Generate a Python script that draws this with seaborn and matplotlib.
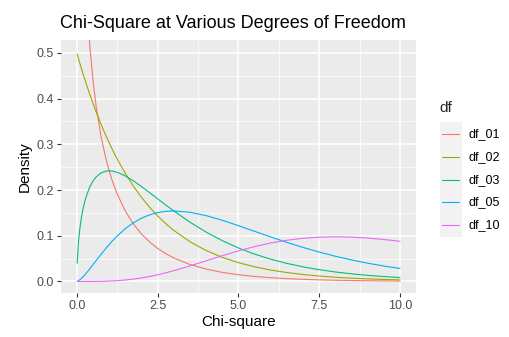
import matplotlib
matplotlib.use("Agg")
import matplotlib.pyplot as plt
from matplotlib.patches import Rectangle
from matplotlib.ticker import MultipleLocator
import seaborn as sns
import pandas as pd

x = [0.01, 0.05, 0.1, 0.15, 0.2, 0.25, 0.3, 0.4, 0.5, 0.6, 0.75, 0.9, 1.0, 1.1, 1.25, 1.5,
     1.75, 2.0, 2.25, 2.5, 2.75, 3.0, 3.5, 4.0, 4.5, 5.0, 5.5, 6.0, 6.5, 7.0, 7.5, 8.0,
     8.5, 9.0, 9.5, 10.0]

df_01 = [3.9695, 1.7401, 1.2000, 0.95564, 0.8072, 0.70413, 0.6269, 0.5164, 0.4394, 0.38155,
         0.3166, 0.26814, 0.2420, 0.21946, 0.1910, 0.1539, 0.1257, 0.1038, 0.086345, 0.07229,
         0.060826, 0.05139, 0.03706, 0.02700, 0.01982, 0.01465, 0.01087, 0.008109, 0.006067,
         0.004553, 0.003426, 0.002583, 0.001952, 0.001477, 0.001120, 0.000850]
df_02 = [0.4975, 0.4877, 0.4756, 0.46387, 0.4524, 0.44125, 0.4304, 0.4094, 0.3894, 0.37041,
         0.3436, 0.31881, 0.3033, 0.28848, 0.2676, 0.2362, 0.2084, 0.1839, 0.16233, 0.1433,
         0.12642, 0.1116, 0.08689, 0.06767, 0.05270, 0.04104, 0.03196, 0.02489, 0.01939,
         0.01510, 0.01176, 0.009158, 0.007132, 0.005554, 0.004326, 0.003369]
df_03 = [0.03970, 0.08700, 0.12000, 0.14335, 0.16143, 0.17603, 0.18807, 0.20658, 0.21970,
         0.22893, 0.23746, 0.24132, 0.24197, 0.24140, 0.23874, 0.23080, 0.22000, 0.20755,
         0.19428, 0.18072, 0.16727, 0.15418, 0.12970, 0.10798, 0.08920, 0.07322, 0.05981,
         0.04865, 0.03944, 0.03187, 0.02569, 0.02067, 0.01659, 0.01330, 0.01064, 0.00850]
df_05 = [0.000132, 0.00145, 0.00400, 0.007167, 0.01076, 0.014669, 0.01881, 0.02754, 0.03662,
         0.045786, 0.05936, 0.072397, 0.08066, 0.088515, 0.09948, 0.11540, 0.12833, 0.13837,
         0.145708, 0.15060, 0.153333, 0.15418, 0.15131, 0.14398, 0.13380, 0.12204, 0.10965,
         0.09730, 0.08545, 0.07437, 0.06424, 0.05511, 0.04701, 0.03989, 0.03369, 0.02833]
df_10 = [0.0, 0.0, 0.000000124, 0.00000061, 0.0000019, 0.00000449, 0.0000091, 0.0000273,
         0.0000634, 0.000125, 0.000283, 0.000545, 0.000790, 0.001100, 0.001702, 0.003114,
         0.005091, 0.007664, 0.010834, 0.014572, 0.018828, 0.023533, 0.033955, 0.045112,
         0.056278, 0.066801, 0.076170, 0.084016, 0.090123, 0.094404, 0.096892, 0.097685,
         0.096952, 0.094904, 0.091759, 0.087734]

series_names = ["df_01", "df_02", "df_03", "df_05", "df_10"]
series_vals = [df_01, df_02, df_03, df_05, df_10]
colors = ["#F8766D", "#A3A500", "#00BF7D", "#00B0F6", "#E76BF3"]

rows = []
for name, vals in zip(series_names, series_vals):
    for xi, yi in zip(x, vals):
        rows.append({"x": xi, "y": yi, "df": name})
data = pd.DataFrame(rows)

sns.set_theme(style="darkgrid")
plt.rcParams["font.family"] = ["Liberation Sans", "DejaVu Sans"]

fig = plt.figure(figsize=(5.1, 3.37), dpi=100)
fig.patch.set_facecolor("white")
ax = fig.add_axes([0.119, 0.131, 0.697, 0.750])
ax.set_facecolor("#EBEBEB")

sns.lineplot(data=data, x="x", y="y", hue="df", palette=dict(zip(series_names, colors)),
             linewidth=0.8, ax=ax, legend=False, estimator=None, sort=False)

ax.set_xlim(-0.5, 10.5)
ax.set_ylim(-0.025, 0.528)
ax.xaxis.set_minor_locator(MultipleLocator(1.25))
ax.yaxis.set_minor_locator(MultipleLocator(0.05))
ax.set_xticks([0, 2.5, 5, 7.5, 10])
ax.set_xticklabels(["0.0", "2.5", "5.0", "7.5", "10.0"])
ax.set_yticks([0, 0.1, 0.2, 0.3, 0.4, 0.5])
ax.set_yticklabels(["0.0", "0.1", "0.2", "0.3", "0.4", "0.5"])
ax.grid(which="major", color="white", linewidth=1.1)
ax.grid(which="minor", color="white", linewidth=0.5)
ax.set_axisbelow(True)
for s in ax.spines.values():
    s.set_visible(False)
ax.tick_params(axis="both", which="major", length=3, width=0.8, color="#333333",
               labelsize=9, labelcolor="#4D4D4D", pad=2, direction="out")
ax.tick_params(axis="both", which="minor", length=0)
ax.tick_params(bottom=True, left=True)
ax.set_xlabel("Chi-square", fontsize=11, color="black", labelpad=2)
ax.set_ylabel("Density", fontsize=11, color="black", labelpad=3)

fig.text(0.118, 0.929, "Chi-Square at Various Degrees of Freedom", fontsize=13,
         color="black", ha="left", va="center")

# legend
fig.text(439 / 510, 1 - 108 / 337, "df", fontsize=11, ha="left", va="center")
fig.patches.append(Rectangle((440 / 510, 1 - 237 / 337), 22 / 510, 115 / 337,
                             transform=fig.transFigure, facecolor="#F2F2F2",
                             edgecolor="none", zorder=0))
for i, (name, c) in enumerate(zip(series_names, colors)):
    yy = 1 - (134 + i * 22.8) / 337
    fig.add_artist(plt.Line2D([442 / 510, 459 / 510], [yy, yy], color=c,
                              linewidth=0.8, transform=fig.transFigure))
    fig.text(469 / 510, yy, name, fontsize=9, ha="left", va="center", color="black")

fig.savefig("out.png", dpi=100)
